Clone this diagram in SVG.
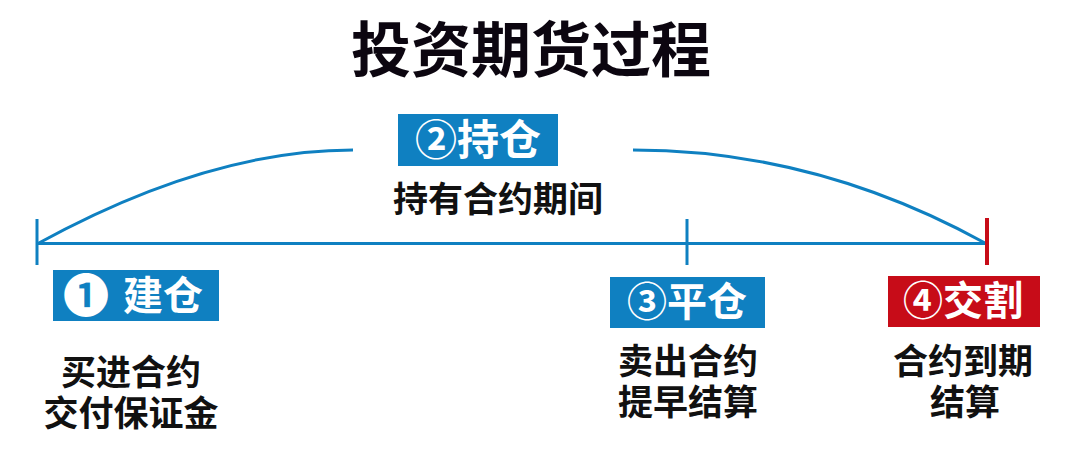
<svg xmlns="http://www.w3.org/2000/svg" width="1069" height="454" viewBox="0 0 1069 454">
<style>
text{font-family:"Noto Sans CJK SC","Noto Sans",sans-serif;font-weight:bold}
.t{fill:#111;font-size:35px;text-anchor:middle}
.lbl{fill:#fff;font-size:40px}
.blue{fill:#0f80c1}
.red{fill:#c70c18}
.ln{stroke:#0f80c1;stroke-width:3;fill:none}
</style>
<rect width="1069" height="454" fill="#fff"/>
<text id="title" x="531" y="72" style="font-size:60px;fill:#0c0610" text-anchor="middle">投资期货过程</text>
<g id="connectors">
<path class="ln" d="M37,244 Q208,150 353,150"/>
<path class="ln" d="M633,150 Q816,150 985,243"/>
<line class="ln" x1="37" y1="243.5" x2="985" y2="243.5"/>
<line class="ln" x1="37" y1="219" x2="37" y2="265"/>
<line class="ln" x1="687" y1="219" x2="687" y2="265"/>
<line x1="987" y1="218" x2="987" y2="265" stroke="#c70c18" stroke-width="4"/>
</g>
<g id="node1">
<rect class="blue" x="53" y="270" width="166" height="51"/>
<text class="lbl" x="63" y="310"><tspan style="font-size:46px" dy="2">❶</tspan><tspan dy="-2" dx="14">建仓</tspan></text>
<text class="t" x="131" y="385">买进合约</text>
<text class="t" x="131" y="426">交付保证金</text>
</g>
<g id="node2">
<rect class="blue" x="398" y="114" width="160" height="52"/>
<text class="lbl" x="478" y="155" text-anchor="middle" style="font-size:42px">②持仓</text>
<text class="t" x="498" y="212">持有合约期间</text>
</g>
<g id="node3">
<rect class="blue" x="610" y="277" width="155" height="51"/>
<text class="lbl" x="687" y="316" text-anchor="middle">③平仓</text>
<text class="t" x="688" y="374">卖出合约</text>
<text class="t" x="688" y="415">提早结算</text>
</g>
<g id="node4">
<rect class="red" x="888" y="276" width="152" height="51"/>
<text class="lbl" x="963" y="315" text-anchor="middle">④交割</text>
<text class="t" x="963" y="374">合约到期</text>
<text class="t" x="965" y="415">结算</text>
</g>
</svg>
